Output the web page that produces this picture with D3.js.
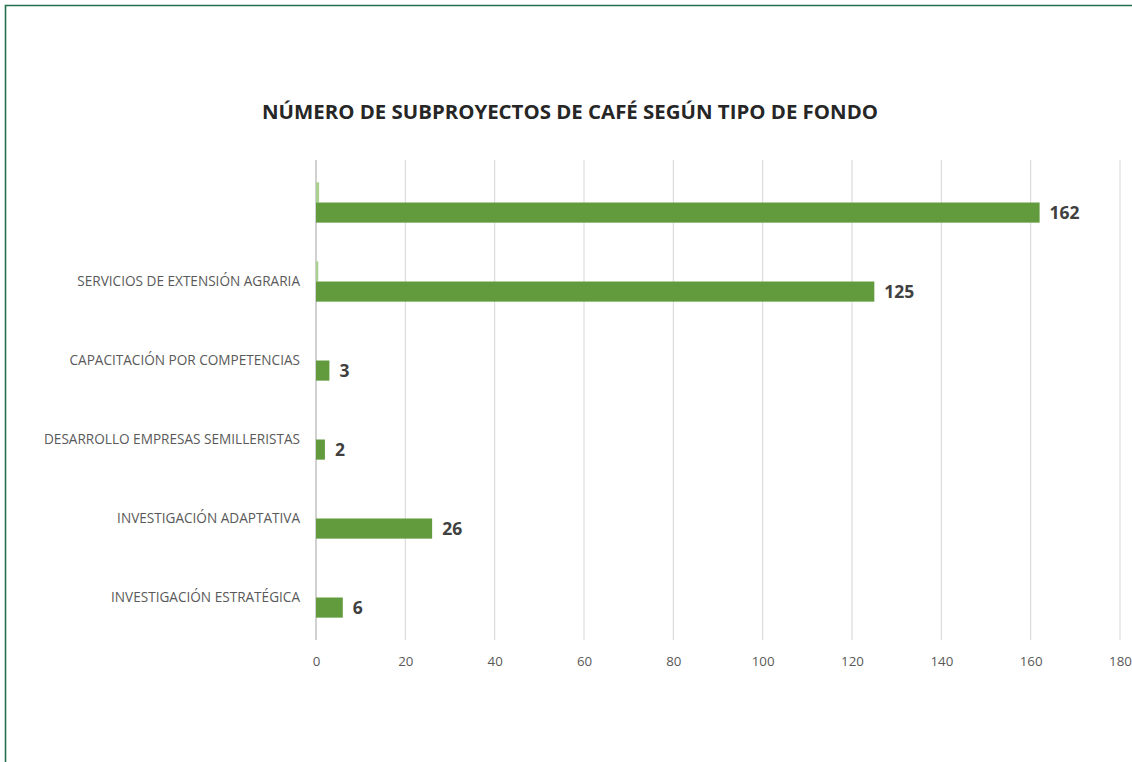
<!DOCTYPE html>
<html><head><meta charset="utf-8">
<script src="https://cdn.jsdelivr.net/npm/d3@7"></script>
<style>
html,body{margin:0;padding:0;background:#fff;}
svg{display:block;font-family:"Open Sans",sans-serif;}
</style></head>
<body>
<svg id="chart" width="1132" height="762"></svg>
<script>
const categories = ["", "SERVICIOS DE EXTENSIÓN AGRARIA", "CAPACITACIÓN POR COMPETENCIAS", "DESARROLLO EMPRESAS SEMILLERISTAS", "INVESTIGACIÓN ADAPTATIVA", "INVESTIGACIÓN ESTRATÉGICA"];
const mainValues = [162, 125, 3, 2, 26, 6];
const minorValues = [0.7, 0.5, 0, 0, 0, 0];
const xTicks = [0, 20, 40, 60, 80, 100, 120, 140, 160, 180];
const title = "NÚMERO DE SUBPROYECTOS DE CAFÉ SEGÚN TIPO DE FONDO";

const svg = d3.select("#chart");
const W = 1132, H = 762;
const pLeft = 316, pRight = 1120, pTop = 163, pBottom = 637;

// frame
svg.append("path").attr("d", `M5.5,${H} L5.5,5.5 L${W},5.5`)
  .attr("fill","none").attr("stroke","#23704F").attr("stroke-width",1.6);

svg.append("text").attr("x", 570).attr("y", 119).attr("text-anchor","middle")
  .attr("font-size", 19.5).attr("font-weight","bold").attr("fill","#262626")
  .attr("textLength", 616).attr("lengthAdjust","spacingAndGlyphs")
  .text(title);

const x = d3.scaleLinear().domain([0,180]).range([pLeft,pRight]);
const y = d3.scaleBand().domain(d3.range(categories.length)).range([pTop,pBottom]).paddingInner(0.49).paddingOuter(0.245);
const sub = d3.scaleBand().domain([0,1]).range([0,y.bandwidth()]);

// gridlines
svg.append("g").selectAll("line").data(xTicks).join("line")
  .attr("x1", d=>x(d)).attr("x2", d=>x(d)).attr("y1", pTop-3).attr("y2", pBottom+3)
  .attr("stroke", d=> d===0 ? "#d0d0d0" : "#dcdcdc").attr("stroke-width", d=> d===0 ? 2 : 1.2);

// tick labels
const xAxis = d3.axisBottom(x).tickValues(xTicks).tickSize(0).tickPadding(0);
const gx = svg.append("g").attr("transform", `translate(0,${pBottom+25})`).call(xAxis);
gx.select(".domain").remove();
gx.selectAll("text").attr("font-size", 13.3).attr("fill","#595959").attr("font-family","'Open Sans',sans-serif").attr("dy","0.32em");

// category labels
const yAxis = d3.axisLeft(y).tickFormat(i=>categories[i]).tickSize(0).tickPadding(0);
const gy = svg.append("g").attr("transform", `translate(300,0)`).call(yAxis);
gy.select(".domain").remove();
gy.selectAll("text").attr("font-size", 13.6).attr("fill","#595959").attr("font-family","'Open Sans',sans-serif").attr("dy","0.32em");

// minor bars
svg.append("g").selectAll("rect").data(minorValues).join("rect")
  .attr("x", x(0)).attr("y", (d,i)=>y(i)+sub(0)).attr("height", sub.bandwidth())
  .attr("width", d=>x(d)-x(0)).attr("fill","#A9D08E");

// main bars
svg.append("g").selectAll("rect").data(mainValues).join("rect")
  .attr("x", x(0)).attr("y", (d,i)=>y(i)+sub(1)).attr("height", sub.bandwidth())
  .attr("width", d=>x(d)-x(0)).attr("fill","#629B3E");

// value labels
svg.append("g").selectAll("text").data(mainValues).join("text")
  .attr("x", d=>x(d)+10).attr("y", (d,i)=>y(i)+sub(1)+sub.bandwidth()/2)
  .attr("dy","0.35em").attr("font-size",17.5).attr("font-weight","bold").attr("fill","#404040")
  .text(d=>d);
</script>
</body></html>
